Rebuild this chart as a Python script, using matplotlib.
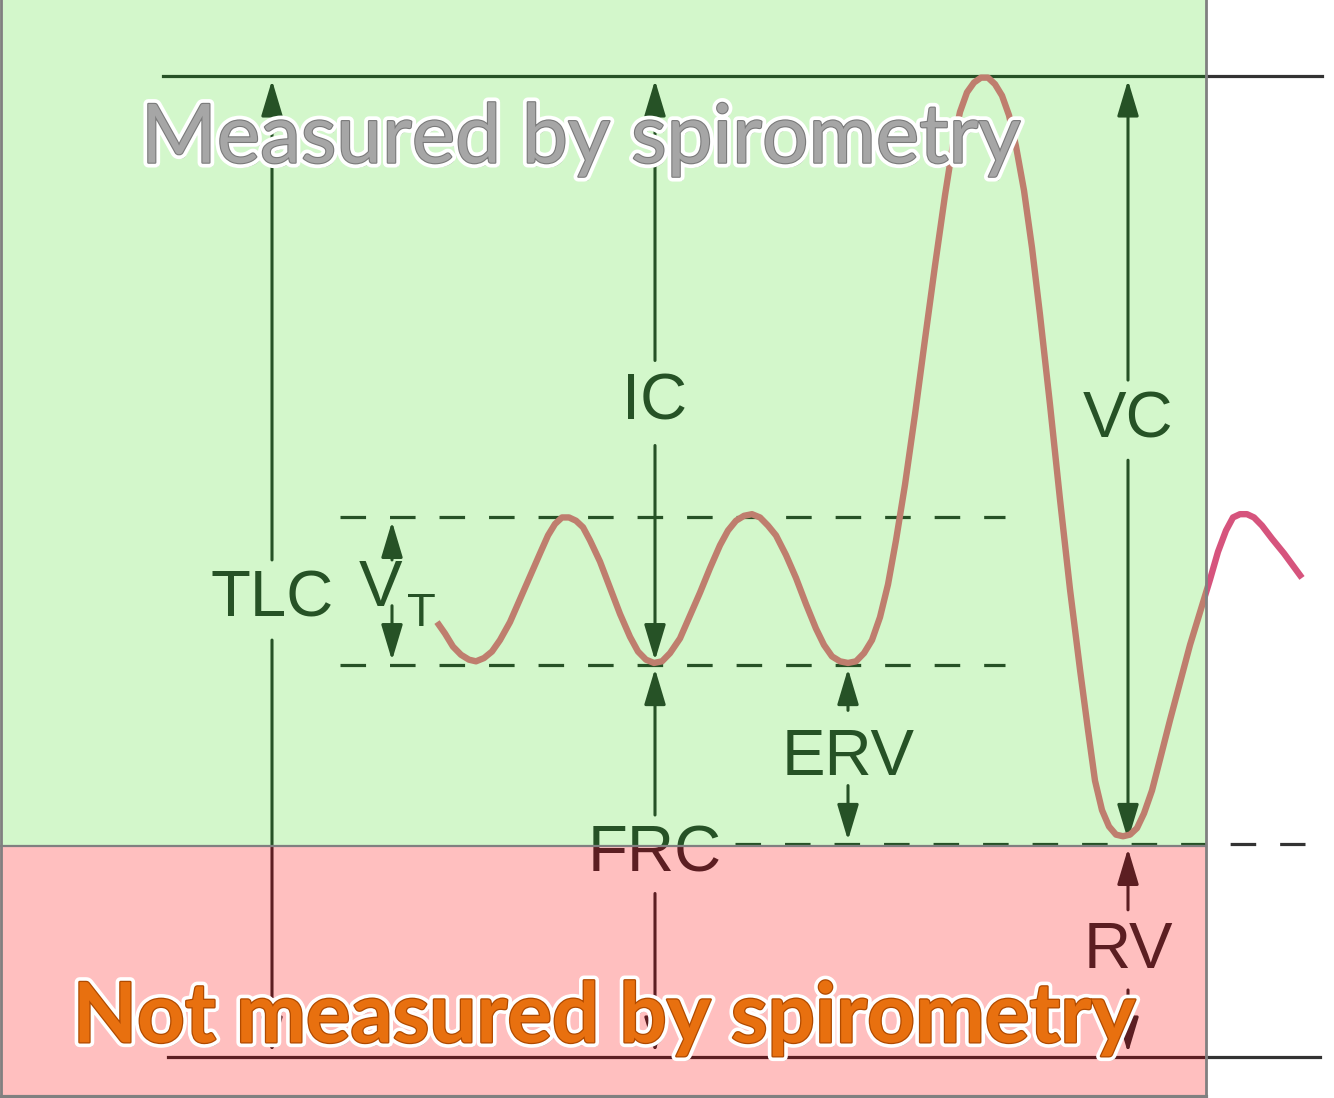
import matplotlib
matplotlib.use("Agg")
import matplotlib.pyplot as plt
import matplotlib.patheffects as pe
from matplotlib.patches import Rectangle, FancyArrowPatch

# spirogram trace: time (s) and lung volume (L)
TIME = [4.37, 4.45, 4.53, 4.61, 4.69, 4.76, 4.84, 4.92, 5.00, 5.10,
        5.20, 5.30, 5.40, 5.48, 5.55, 5.62, 5.69, 5.76, 5.83, 5.90,
        6.00, 6.10, 6.20, 6.30, 6.38, 6.46, 6.54, 6.62, 6.70, 6.80,
        6.90, 7.00, 7.10, 7.20, 7.28, 7.36, 7.44, 7.52, 7.60, 7.68,
        7.76, 7.86, 7.96, 8.06, 8.16, 8.24, 8.32, 8.40, 8.48, 8.56,
        8.64, 8.72, 8.80, 8.88, 8.96, 9.05, 9.15, 9.25, 9.35, 9.45,
        9.53, 9.60, 9.67, 9.74, 9.81, 9.88, 9.95, 10.02, 10.09, 10.16,
        10.24, 10.32, 10.40, 10.50, 10.60, 10.70, 10.80, 10.88, 10.95, 11.02,
        11.09, 11.16, 11.23, 11.30, 11.37, 11.44, 11.52, 11.60, 11.70, 11.80,
        11.90, 12.00, 12.10, 12.18, 12.26, 12.33, 12.40, 12.47, 12.54, 12.62,
        12.72, 12.84, 13.02]
VOLUME = [2.66, 2.59, 2.51, 2.46, 2.43, 2.42, 2.44, 2.48, 2.55, 2.66,
          2.80, 2.94, 3.08, 3.19, 3.26, 3.30, 3.30, 3.28, 3.24, 3.16,
          3.03, 2.87, 2.71, 2.57, 2.48, 2.43, 2.41, 2.42, 2.47, 2.56,
          2.70, 2.84, 2.99, 3.13, 3.22, 3.28, 3.31, 3.32, 3.30, 3.25,
          3.19, 3.07, 2.93, 2.77, 2.62, 2.52, 2.45, 2.42, 2.41, 2.42,
          2.47, 2.55, 2.69, 2.89, 3.16, 3.50, 3.93, 4.39, 4.84, 5.27,
          5.58, 5.78, 5.90, 5.96, 5.99, 5.99, 5.95, 5.88, 5.76, 5.57,
          5.30, 4.95, 4.54, 3.99, 3.41, 2.86, 2.37, 2.00, 1.69, 1.51,
          1.41, 1.36, 1.35, 1.36, 1.40, 1.49, 1.63, 1.82, 2.06, 2.29,
          2.52, 2.72, 2.92, 3.09, 3.22, 3.30, 3.32, 3.32, 3.30, 3.25,
          3.17, 3.08, 2.93]

# lung volume levels (L)
TLC = 6.0
VT_TOP = 3.3
FRC = 2.4
RV = 1.3

# labelled arrows: label, x, label y, gap below, gap above, bottom level, top level
MEASURES = [
    ("TLC", 2.72, 2.80, 2.55, 3.04, 0.0, TLC),
    ("IC", 6.55, 4.00, 3.74, 4.26, FRC, TLC),
    ("FRC", 6.55, 1.24, 1.00, 1.48, 0.0, FRC),
    ("VC", 11.28, 3.89, 3.65, 4.14, RV, TLC),
    ("ERV", 8.48, 1.83, 1.66, 2.12, RV, FRC),
    ("RV", 11.28, 0.65, 0.41, 0.90, 0.0, RV),
]

X_MAX = 13.34
Y_MIN, Y_MAX = -0.2508, 6.4648
BOX_RIGHT = 12.06
SPLIT = RV - 0.012  # border between the two shaded boxes

fig = plt.figure(figsize=(13.34, 10.98), dpi=100)
ax = fig.add_axes([0, 0, 1, 1])
ax.set_xlim(0, X_MAX)
ax.set_ylim(Y_MIN, Y_MAX)
ax.axis("off")

ax.add_patch(Rectangle((0, SPLIT), BOX_RIGHT, Y_MAX - SPLIT, facecolor="#d3f7cb", edgecolor="none", zorder=0))
ax.add_patch(Rectangle((0, Y_MIN), BOX_RIGHT, SPLIT - Y_MIN, facecolor="#ffbfbf", edgecolor="none", zorder=0))


def draw_layer(ink, curve_color, clip):
    arts = []
    arts += ax.plot([1.63, 13.22], [TLC, TLC], color=ink, lw=2.3)
    arts += ax.plot([1.68, 13.20], [0, 0], color=ink, lw=2.3)
    for lvl, x0, x1 in [(VT_TOP, 3.40, 10.05), (FRC, 3.40, 10.05), (RV, 7.35, 13.05)]:
        arts += ax.plot([x0, x1], [lvl, lvl], color=ink, lw=2.3, dashes=(8, 7.5))
    arts += ax.plot(TIME, VOLUME, color=curve_color, lw=4.6, solid_capstyle="butt",
                    solid_joinstyle="round", zorder=3)

    def arrow(x, y0, y1):
        a = FancyArrowPatch((x, y0), (x, y1), arrowstyle="-|>,head_length=1.1,head_width=0.33",
                            mutation_scale=20, color=ink, lw=2.2, shrinkA=0, shrinkB=3)
        ax.add_patch(a)
        arts.append(a)

    for name, x, ly, gap_lo, gap_hi, lo, hi in MEASURES:
        arrow(x, gap_hi, hi)
        arrow(x, gap_lo, lo)
        arts.append(ax.text(x, ly, name, ha="center", va="center", fontsize=47,
                            family="Liberation Sans", color=ink))
    arrow(3.92, 3.04, VT_TOP)
    arrow(3.92, 2.76, FRC)
    arts.append(ax.text(3.80, 2.86, "V", ha="center", va="center", fontsize=47,
                        family="Liberation Sans", color=ink))
    arts.append(ax.text(4.21, 2.71, "T", ha="center", va="center", fontsize=34,
                        family="Liberation Sans", color=ink))
    for a in arts:
        a.set_clip_on(True)
        a.set_clip_path(clip)


outside = Rectangle((BOX_RIGHT, Y_MIN), X_MAX - BOX_RIGHT, Y_MAX - Y_MIN, transform=ax.transData)
green = Rectangle((0, SPLIT), BOX_RIGHT, Y_MAX - SPLIT, transform=ax.transData)
red = Rectangle((0, Y_MIN), BOX_RIGHT, SPLIT - Y_MIN, transform=ax.transData)
draw_layer("#333333", "#d6547d", outside)
draw_layer("#265226", "#bf7e6e", green)
draw_layer("#5c1e22", "#a05050", red)

# box borders
ax.plot([BOX_RIGHT, BOX_RIGHT], [Y_MIN, Y_MAX], color="#808080", lw=2, zorder=5)
ax.plot([0, BOX_RIGHT], [SPLIT, SPLIT], color="#808080", lw=1.6, zorder=5)
ax.plot([0, BOX_RIGHT], [Y_MIN + 0.008, Y_MIN + 0.008], color="#808080", lw=3, zorder=5)
ax.plot([0.005, 0.005], [Y_MIN, Y_MAX], color="#808080", lw=2, zorder=5)

shadow = pe.withSimplePatchShadow(offset=(2, -3), shadow_rgbFace="#555555", alpha=0.45)
ax.text(5.81, 5.47, "Measured by spirometry", ha="center", va="baseline", fontsize=59,
        family="Lato", color="#a6a6a6", zorder=10,
        path_effects=[shadow, pe.Stroke(linewidth=7, foreground="white"),
                      pe.Stroke(linewidth=1.6, foreground="#7a7a7a"), pe.Normal()])
ax.text(6.04, 0.09, "Not measured by spirometry", ha="center", va="baseline", fontsize=60,
        family="Lato", weight="bold", color="#e8700f", zorder=10,
        path_effects=[shadow, pe.Stroke(linewidth=7, foreground="white"),
                      pe.Stroke(linewidth=1.8, foreground="#b04a00"), pe.Normal()])

fig.savefig("out.png", dpi=100)
